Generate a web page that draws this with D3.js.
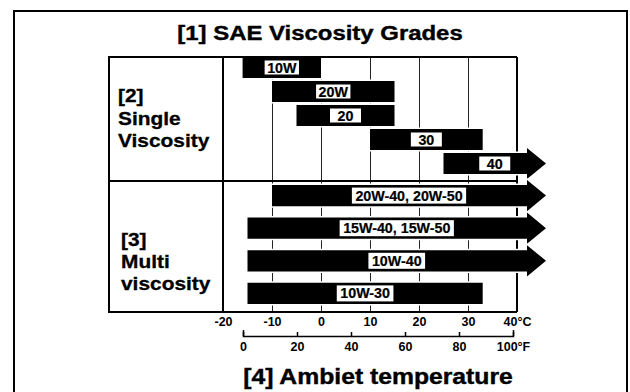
<!DOCTYPE html>
<html>
<head>
<meta charset="utf-8">
<script src="https://cdn.jsdelivr.net/npm/d3@7/dist/d3.min.js"></script>
<style>
  html, body { margin: 0; padding: 0; background: #fff; }
  svg { display: block; font-family: "Liberation Sans", Arial, Helvetica, sans-serif; }
</style>
</head>
<body>
<svg id="chart" width="630" height="392"></svg>
<script>
// Temperature ticks (°C on the chart grid, °F on the secondary scale)
const celsiusTicks = [-20, -10, 0, 10, 20, 30, 40];
const fahrenheitTicks = [0, 20, 40, 60, 80, 100];

// Single viscosity grades: usable ambient temperature range in °C
const singleGrades = ["10W", "20W", "20", "30", "40"];
const singleFrom = [-16, -10, -5, 10, 25];
const singleTo = [0, 15, 15, 33, 40];
const singleOpenEnded = [false, false, false, false, true];

// Multi viscosity grades
const multiGrades = ["20W-40, 20W-50", "15W-40, 15W-50", "10W-40", "10W-30"];
const multiFrom = [-10, -15, -15, -15];
const multiTo = [40, 40, 40, 33];
const multiOpenEnded = [true, true, true, false];

// Row headings
const titleText = "[1] SAE Viscosity Grades";
const singleHeading = ["[2]", "Single", "Viscosity"];
const multiHeading = ["[3]", "Multi", "viscosity"];
const axisTitle = "[4] Ambiet temperature";

const svg = d3.select("#chart");

// layout
const grid = { left: 109, divider: 223, right: 517, top: 57, sep: 181, bottom: 312 };
const x = d3.scaleLinear().domain([-20, 40]).range([grid.divider, grid.right]);
const xF = d3.scaleLinear().domain([0, 100]).range([243, 513]);

const ySingle = d3.scaleBand().domain(singleGrades).range([57, 174]).paddingInner(0.125).paddingOuter(0);
const yMulti = d3.scaleBand().domain(multiGrades).range([185, 304]).paddingInner(0.35).paddingOuter(0);

const ARROW_BODY = 10;   // how far an open-ended bar runs past the last tick
const ARROW_HEAD = 19;   // arrow head length
const ARROW_FLARE = 5;   // arrow head overhang above/below the bar

function boldText(parent, str, tx, ty, size, sx, anchor, weightStroke) {
  const t = parent.append("text")
    .attr("transform", `translate(${tx},${ty}) scale(${sx},1)`)
    .attr("text-anchor", anchor)
    .attr("font-size", size)
    .attr("font-weight", "bold")
    .attr("fill", "#000")
    .text(str);
  if (weightStroke) t.attr("stroke", "#000").attr("stroke-width", weightStroke);
  return t;
}

// outer frame
svg.append("rect")
  .attr("x", 14).attr("y", 11).attr("width", 613).attr("height", 400)
  .attr("fill", "none").attr("stroke", "#000").attr("stroke-width", 2);

// title
boldText(svg, titleText, 320, 40, 21, 1.14, "middle", 0.4);

// thin vertical grid lines
svg.append("g").selectAll("line")
  .data(celsiusTicks.filter(t => t > -20 && t < 40))
  .join("line")
  .attr("x1", d => Math.round(x(d)) + 0.5).attr("x2", d => Math.round(x(d)) + 0.5)
  .attr("y1", grid.top).attr("y2", grid.bottom)
  .attr("stroke", "#222").attr("stroke-width", 1);

// right border first so the arrows cut through it
svg.append("line")
  .attr("x1", grid.right).attr("x2", grid.right)
  .attr("y1", grid.top).attr("y2", grid.bottom)
  .attr("stroke", "#000").attr("stroke-width", 2);

function barPath(from, to, open, y0, h) {
  const x0 = x(from);
  if (!open) {
    const x1 = x(to);
    return `M${x0},${y0}H${x1}V${y0 + h}H${x0}Z`;
  }
  const x1 = x(to) + ARROW_BODY;
  return `M${x0},${y0}H${x1}V${y0 - ARROW_FLARE}L${x1 + ARROW_HEAD},${y0 + h / 2}` +
         `L${x1},${y0 + h + ARROW_FLARE}V${y0 + h}H${x0}Z`;
}

function drawSection(grades, from, to, open, yScale, isSingle) {
  const rows = grades.map((g, i) => ({ grade: g, from: from[i], to: to[i], open: open[i] }));
  const g = svg.append("g");
  const row = g.selectAll("g.row").data(rows).join("g").attr("class", "row");

  row.append("path")
    .attr("d", d => barPath(d.from, d.to, d.open, yScale(d.grade), yScale.bandwidth()))
    .attr("fill", "#000")
    .attr("stroke", "#fff").attr("stroke-width", 3)
    .attr("paint-order", "stroke")
    .attr("stroke-linejoin", "miter");

  row.each(function (d) {
    const r = d3.select(this);
    const x0 = x(d.from);
    const xEnd = d.open ? x(d.to) + ARROW_BODY + ARROW_HEAD : x(d.to);
    const cx = (x0 + xEnd) / 2;
    const cy = yScale(d.grade) + yScale.bandwidth() / 2;
    const sx = 1.02;
    const box = r.append("rect").attr("fill", "#fff");
    const t = boldText(r, d.grade, cx, cy + 5, 14, sx, "middle", 0.2);
    const w = t.node().getComputedTextLength() * sx;
    const bw = isSingle ? Math.max(w + 5, 31) : w + 7;
    const bh = isSingle ? 14 : 16;
    box.attr("x", cx - bw / 2).attr("y", cy - bh / 2)
       .attr("width", bw).attr("height", bh);
  });
}

drawSection(singleGrades, singleFrom, singleTo, singleOpenEnded, ySingle, true);
drawSection(multiGrades, multiFrom, multiTo, multiOpenEnded, yMulti, false);

// remaining borders on top of the bars
const borders = svg.append("g").attr("stroke", "#000").attr("stroke-width", 2).attr("fill", "none");
borders.append("path")
  .attr("d", `M${grid.right},${grid.top}H${grid.left}V${grid.bottom}H${grid.right}`);
borders.append("line")
  .attr("x1", grid.divider).attr("x2", grid.divider)
  .attr("y1", grid.top).attr("y2", grid.bottom);
borders.append("line")
  .attr("x1", grid.left).attr("x2", grid.right)
  .attr("y1", grid.sep).attr("y2", grid.sep);

// row headings
const headG = svg.append("g");
singleHeading.forEach((s, i) => boldText(headG, s, 118, 102 + i * 22.5, 18.5, 1.13, "start", 0.3));
multiHeading.forEach((s, i) => boldText(headG, s, 121, 245.5 + i * 22, 18.5, 1.13, "start", 0.3));

// °C axis labels under the grid
const cAxis = svg.append("g")
  .attr("transform", `translate(0,${grid.bottom})`)
  .call(d3.axisBottom(x).tickValues(celsiusTicks).tickSize(0).tickPadding(5)
    .tickFormat(d => d === 40 ? "40°C" : String(d)));
cAxis.select(".domain").remove();
cAxis.selectAll("text")
  .attr("font-size", 12.5).attr("font-weight", "bold")
  .attr("font-family", "Liberation Sans, Arial, sans-serif").attr("fill", "#000");

// °F scale
const fAxis = svg.append("g")
  .attr("transform", "translate(0,336)")
  .call(d3.axisBottom(xF).tickValues(fahrenheitTicks)
    .tickSizeInner(-4).tickSizeOuter(-6).tickPadding(6)
    .tickFormat(d => d === 100 ? "100°F" : String(d)));
fAxis.select(".domain").attr("stroke", "#000").attr("stroke-width", 1.5);
fAxis.selectAll(".tick line").attr("stroke", "#000").attr("stroke-width", 1.5);
fAxis.selectAll("text")
  .attr("font-size", 12.5).attr("font-weight", "bold")
  .attr("font-family", "Liberation Sans, Arial, sans-serif").attr("fill", "#000");

// axis title
boldText(svg, axisTitle, 378, 384, 21.5, 1.15, "middle", 0.4);
</script>
</body>
</html>
